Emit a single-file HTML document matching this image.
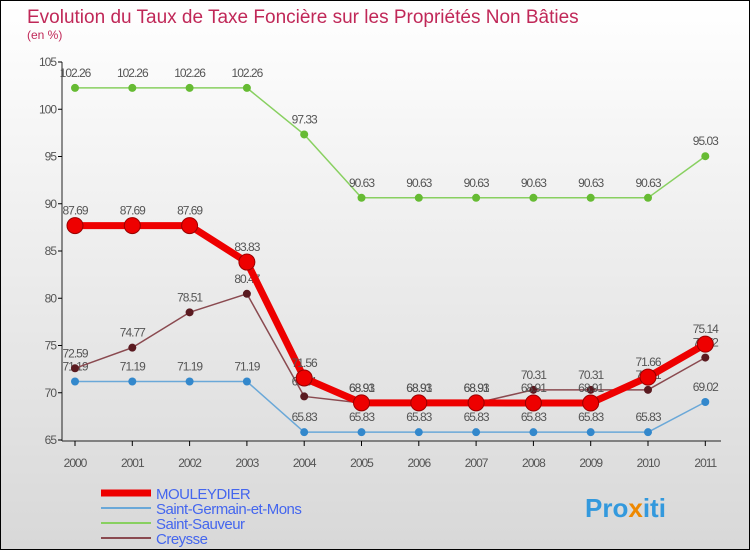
<!DOCTYPE html>
<html><head><meta charset="utf-8"><style>
body{margin:0;width:750px;height:550px;overflow:hidden;font-family:"Liberation Sans",sans-serif}
#wrap{position:relative;width:748px;height:548px;border:1px solid #000;background:linear-gradient(#ffffff,#d8d8d8)}
</style></head><body>
<div id="wrap">
<svg id="chart" width="748" height="548">
<text x="26" y="22" font-size="19" fill="#c02858">Evolution du Taux de Taxe Foncière sur les Propriétés Non Bâties</text>
<text x="26" y="38" font-size="12" fill="#c02858">(en %)</text>
<g id="axes"></g><g id="series"></g><g id="legend"></g>
<text x="584" y="516" font-size="26" font-weight="bold" fill="#3399dd">Pro<tspan fill="#ee8800">x</tspan>iti</text>
</svg></div>
<script>
const years=[2000,2001,2002,2003,2004,2005,2006,2007,2008,2009,2010,2011];
const yTicks=[65,70,75,80,85,90,95,100,105];
const mouleydier=[87.69,87.69,87.69,83.83,71.56,68.93,68.93,68.93,68.91,68.91,71.66,75.14];
const stGermain=[71.19,71.19,71.19,71.19,65.83,65.83,65.83,65.83,65.83,65.83,65.83,69.02];
const stSauveur=[102.26,102.26,102.26,102.26,97.33,90.63,90.63,90.63,90.63,90.63,90.63,95.03];
const creysse=[72.59,74.77,78.51,80.47,69.61,68.91,68.91,68.91,70.31,70.31,70.31,73.72];
const names=["MOULEYDIER","Saint-Germain-et-Mons","Saint-Sauveur","Creysse"];
const NS="http://www.w3.org/2000/svg";
const X=i=>74+i*57.3, Y=v=>61+(105-v)*9.45;
function mk(t,a,p){const e=document.createElementNS(NS,t);for(const k in a)e.setAttribute(k,a[k]);p.appendChild(e);return e;}
const ax=document.getElementById('axes');
const yl=mk('line',{x1:61,y1:61,x2:61,y2:440,stroke:'#222'},ax);


const xl=mk('line',{x1:61,y1:440,x2:720,y2:440,stroke:'#222'},ax);


yTicks.forEach(v=>{mk('line',{x1:57,y1:Y(v),x2:61,y2:Y(v),stroke:'#000'},ax);
const t=mk('text',{x:55,y:Y(v)+4,'font-size':12,'text-anchor':'end',fill:'#555','letter-spacing':'-1'},ax);t.textContent=v;

});
years.forEach((y,i)=>{mk('line',{x1:X(i),y1:440,x2:X(i),y2:445,stroke:'#000'},ax);
const t=mk('text',{x:X(i),y:466,'font-size':12,'text-anchor':'middle',fill:'#555','letter-spacing':'-1'},ax);t.textContent=y;

});
const sg=document.getElementById('series');
const defs=[[stSauveur,'#88d060','#66bb33',1.5,4,'series-saint-sauveur'],[stGermain,'#6aa8d8','#3388cc',1.5,4,'series-saint-germain'],[creysse,'#8a4a50','#5a1a20',1.5,4,'series-creysse'],[mouleydier,'#ee0000','#ee0000',7,8,'series-mouleydier']];
defs.forEach(d=>{const g=mk('g',{},sg);


mk('polyline',{points:d[0].map((v,i)=>X(i)+','+Y(v)).join(' '),fill:'none',stroke:d[1],'stroke-width':d[3],'stroke-linejoin':'round'},g);
d[0].forEach((v,i)=>{const c=mk('circle',{cx:X(i),cy:Y(v),r:d[4],fill:d[2],stroke:d[3]>5?'#990000':'none','stroke-width':1},g);


const t=mk('text',{x:X(i),y:Y(v)-11,'font-size':12,'text-anchor':'middle',fill:'#555','letter-spacing':'-1'},g);t.textContent=v.toFixed(2);

});});
const lg=document.getElementById('legend');
const lc=['#ee0000','#6aa8d8','#88d060','#8a4a50'],lw=[7,2,2,2];
names.forEach((n,i)=>{const y=492+i*15;
const e=mk('g',{},lg);


mk('line',{x1:100,y1:y,x2:150,y2:y,stroke:lc[i],'stroke-width':lw[i]},e);
const t=mk('text',{x:155,y:y+6,'font-size':15,fill:'#4466ee','letter-spacing':'-0.5'},e);t.textContent=n;});
</script></body></html>
